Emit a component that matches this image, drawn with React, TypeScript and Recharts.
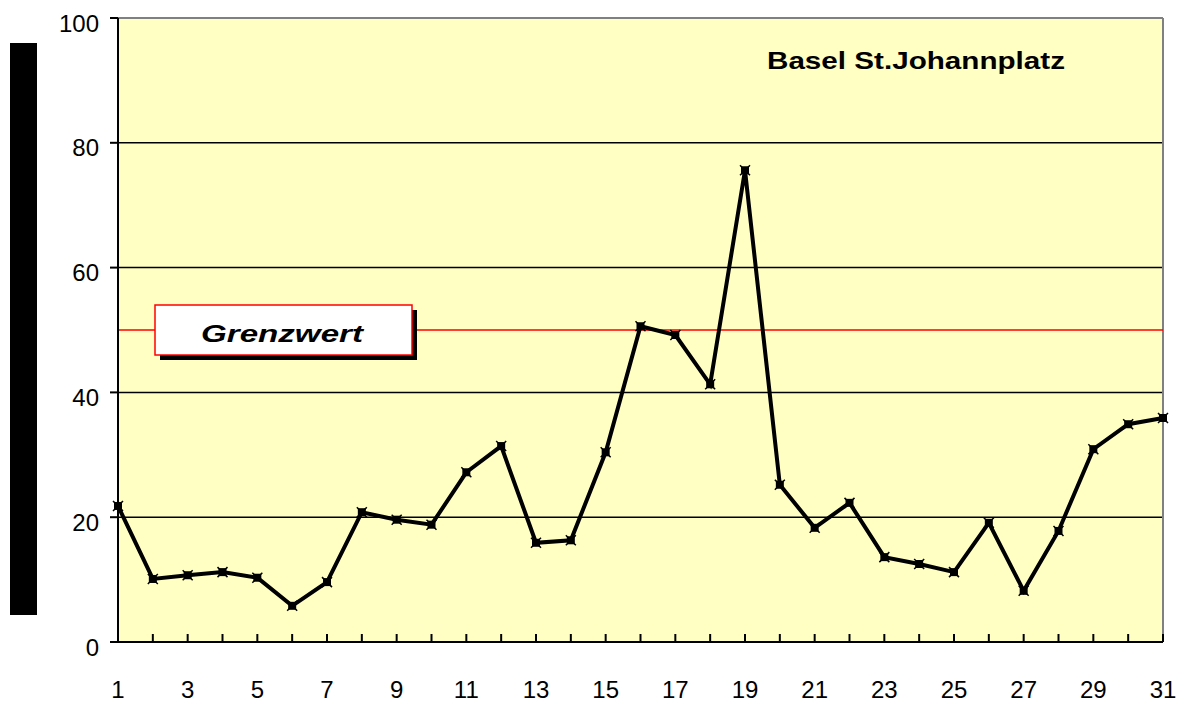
import React from 'react';
import {
  LineChart,
  Line,
  XAxis,
  YAxis,
  CartesianGrid,
  ReferenceLine,
} from 'recharts';

const days = [
  1, 2, 3, 4, 5, 6, 7, 8, 9, 10, 11, 12, 13, 14, 15, 16, 17, 18, 19, 20, 21, 22, 23, 24, 25, 26, 27, 28,
  29, 30, 31,
];
const values = [
  21.8, 10.1, 10.7, 11.2, 10.3, 5.8, 9.6, 20.8, 19.6, 18.8, 27.2, 31.4, 15.9, 16.3, 30.4, 50.6, 49.2,
  41.3, 75.6, 25.2, 18.3, 22.3, 13.6, 12.5, 11.2, 19.1, 8.2, 17.8, 30.9, 34.9, 35.9,
];
const yTicks = [0, 20, 40, 60, 80, 100];
const limitValue = 50;
const limitLabel = 'Grenzwert';
const stationName = 'Basel St.Johannplatz';

const FONT = '"Liberation Sans", Arial, sans-serif';

const data = days.map((d, i) => ({ day: d, value: values[i] }));

const XTick = (props: any) => {
  const { x, y, payload } = props;
  const day = payload.value as number;
  return (
    <g>
      <line x1={x} x2={x} y1={y} y2={y - 8} stroke="#000" strokeWidth={2} />
      {day % 2 === 1 && (
        <text x={x} y={y + 56} textAnchor="middle" fontSize={24} fontFamily={FONT} fill="#000">
          {day}
        </text>
      )}
    </g>
  );
};

const YTick = (props: any) => {
  const { x, y, payload } = props;
  return (
    <text x={x} y={y + 5} dy="0.355em" textAnchor="end" fontSize={24} fontFamily={FONT} fill="#000">
      {payload.value}
    </text>
  );
};

const Marker = (props: any) => {
  const { cx, cy } = props;
  if (cx == null || cy == null) return null;
  return (
    <g>
      <rect x={cx - 4} y={cy - 4} width={8} height={8} fill="#000" />
      <path d={`M${cx - 5},${cy - 5}L${cx + 5},${cy + 5}M${cx + 5},${cy - 5}L${cx - 5},${cy + 5}`} stroke="#000" strokeWidth={1.5} />
    </g>
  );
};

const LimitBox = (props: any) => {
  const { viewBox } = props;
  const x = viewBox.x + 37;
  const y = viewBox.y - 25;
  const w = 257;
  const h = 50;
  return (
    <g>
      <rect x={x + 5} y={y + 5} width={w} height={h} fill="#000" />
      <rect x={x} y={y} width={w} height={h} fill="#fff" stroke="#ff0000" strokeWidth={1.5} />
      <text
        x={x + 46}
        y={y + 37}
        textLength={162}
        lengthAdjust="spacingAndGlyphs"
        fontSize={24}
        fontWeight="bold"
        fontStyle="italic"
        fontFamily={FONT}
        fill="#000"
      >
        {limitLabel}
      </text>
    </g>
  );
};

export default function App() {
  return (
    <div style={{ position: 'absolute', left: 0, top: 0, width: 1186, height: 703, background: '#fff' }}>
      <div style={{ position: 'absolute', left: 10, top: 43, width: 27, height: 572, background: '#000' }} />
      <LineChart width={1186} height={703} data={data} margin={{ top: 18, right: 23, bottom: 0, left: 0 }}>
        <CartesianGrid fill="#FFFFC4" vertical={false} stroke="#000" strokeWidth={1.5} />
        <XAxis
          dataKey="day"
          type="number"
          domain={[1, 31]}
          ticks={days}
          interval={0}
          height={61}
          tickSize={0}
          tickMargin={0}
          tick={<XTick />}
          axisLine={{ stroke: '#000', strokeWidth: 2 }}
          tickLine={false}
        />
        <YAxis
          type="number"
          domain={[0, 100]}
          ticks={yTicks}
          width={118}
          tickSize={8}
          tickMargin={11}
          tick={<YTick />}
          axisLine={{ stroke: '#000', strokeWidth: 2 }}
          tickLine={{ stroke: '#000', strokeWidth: 2 }}
        />
        <ReferenceLine y={100} stroke="#808080" strokeWidth={2} />
        <ReferenceLine x={31} stroke="#808080" strokeWidth={2} />
        <ReferenceLine y={limitValue} stroke="#ff0000" strokeWidth={1.5} label={<LimitBox />} />
        <Line
          type="linear"
          dataKey="value"
          stroke="#000"
          strokeWidth={4}
          dot={<Marker />}
          isAnimationActive={false}
        />
      </LineChart>
      <svg style={{ position: 'absolute', left: 0, top: 0, pointerEvents: 'none' }} width={1186} height={703}>
        <text
          x={767}
          y={69}
          textLength={298}
          lengthAdjust="spacingAndGlyphs"
          fontSize={24}
          fontWeight="bold"
          fontFamily={FONT}
          fill="#000"
        >
          {stationName}
        </text>
      </svg>
    </div>
  );
}
